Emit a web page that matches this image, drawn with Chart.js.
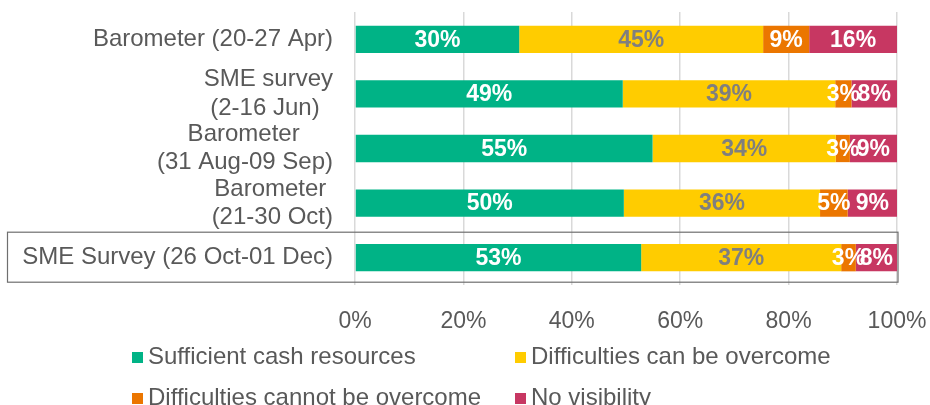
<!DOCTYPE html>
<html>
<head>
<meta charset="utf-8">
<script src="https://cdn.jsdelivr.net/npm/chart.js@4/dist/chart.umd.min.js"></script>
<style>
  body { margin: 0; background: #fff; }
  #wrap { position: relative; width: 930px; height: 405px; font-family: "Liberation Sans", Arial, sans-serif; }
  #box { position: absolute; left: 0; top: 0; width: 930px; height: 340px; }
  #legend { position: absolute; left: 0; top: 0; width: 930px; height: 405px; pointer-events: none; }
  .item { position: absolute; font-size: 24px; color: #595959; line-height: 28px; white-space: nowrap; }
  .item span { display: inline-block; width: 11px; height: 11px; margin-right: 5px; vertical-align: 1px; }
</style>
</head>
<body>
<div id="wrap">
  <div id="box"><canvas id="chart"></canvas></div>
  <div id="legend"></div>
</div>
<script>
// categories (trailing spaces mimic the original label wrapping)
const categories = [
  'Barometer (20-27 Apr)',
  ['SME survey', '(2-16 Jun)  '],
  ['Barometer     ', '(31 Aug-09 Sep)'],
  ['Barometer ', '(21-30 Oct)'],
  'SME Survey (26 Oct-01 Dec)'
];

// series values in %
const sufficient = [30.3, 49.4, 54.9, 49.6, 52.8];
const canOvercome = [45.0, 39.2, 33.8, 36.2, 36.9];
const cannotOvercome = [8.5, 3.0, 2.6, 5.1, 2.7];
const noVisibility = [16.2, 8.4, 8.7, 9.1, 7.6];

const seriesNames = ['Sufficient cash resources', 'Difficulties can be overcome', 'Difficulties cannot be overcome', 'No visibility'];
const seriesColors = ['#00B386', '#FFCC00', '#EB7600', '#C73762'];
const labelColors = ['#ffffff', '#7f7f7f', '#ffffff', '#ffffff'];
const xTicks = [0, 20, 40, 60, 80, 100];

const values = [sufficient, canOvercome, cannotOvercome, noVisibility];

// values drawn in the middle of every segment
const segmentLabels = {
  id: 'segmentLabels',
  afterDatasetsDraw(chart) {
    const ctx = chart.ctx;
    ctx.save();
    ctx.font = 'bold 23px "Liberation Sans", Arial, sans-serif';
    ctx.textAlign = 'center';
    ctx.textBaseline = 'middle';
    chart.data.datasets.forEach((ds, i) => {
      chart.getDatasetMeta(i).data.forEach((bar, j) => {
        ctx.fillStyle = labelColors[i];
        ctx.fillText(Math.round(ds.data[j]) + '%', (bar.x + bar.base) / 2, bar.y + 1);
      });
    });
    ctx.restore();
  }
};

// frame around the last category
const lastRowFrame = {
  id: 'lastRowFrame',
  afterDraw(chart) {
    const y = chart.scales.y.getPixelForValue(categories.length - 1);
    const ctx = chart.ctx;
    ctx.save();
    ctx.strokeStyle = '#6f6f6f';
    ctx.lineWidth = 1.2;
    ctx.strokeRect(7.5, y - 25.5, chart.chartArea.right - 6.5, 50);
    ctx.restore();
  }
};

new Chart(document.getElementById('chart'), {
  type: 'bar',
  data: {
    labels: categories,
    datasets: values.map((d, i) => ({
      label: seriesNames[i],
      data: d,
      backgroundColor: seriesColors[i],
      borderWidth: 0,
      categoryPercentage: 0.5,
      barPercentage: 1
    }))
  },
  options: {
    indexAxis: 'y',
    responsive: true,
    maintainAspectRatio: false,
    animation: false,
    layout: { padding: { top: 12, right: 33, left: 0, bottom: 0 } },
    plugins: {
      legend: { display: false },
      tooltip: { enabled: false }
    },
    scales: {
      x: {
        stacked: true,
        min: 0,
        max: 100,
        afterBuildTicks(scale) { scale.ticks = xTicks.map(v => ({ value: v })); },
        afterFit(scale) { scale.height = 55; },
        border: { display: false },
        grid: { color: '#d9d9d9', lineWidth: 1.5, drawTicks: true, tickLength: 20, tickColor: 'rgba(0,0,0,0)' },
        ticks: {
          padding: 3,
          color: '#595959',
          font: { family: '"Liberation Sans", Arial, sans-serif', size: 23 },
          callback: v => v + '%'
        }
      },
      y: {
        stacked: true,
        afterFit(scale) {
          scale.width = 355;
          scale.paddingTop = 0;
          scale.paddingBottom = 0;
        },
        border: { display: false },
        grid: { display: false, drawTicks: false },
        ticks: {
          autoSkip: false,
          padding: 22,
          color: '#595959',
          font: { family: '"Liberation Sans", Arial, sans-serif', size: 24, lineHeight: 1.17 }
        }
      }
    }
  },
  plugins: [segmentLabels, lastRowFrame]
});

// legend laid out as a two-column grid, like the original
const legendPos = [[132, 342], [515, 342], [132, 383], [515, 383]];
const legend = document.getElementById('legend');
seriesNames.forEach((name, i) => {
  const el = document.createElement('div');
  el.className = 'item';
  el.style.left = legendPos[i][0] + 'px';
  el.style.top = legendPos[i][1] + 'px';
  el.innerHTML = '<span style="background:' + seriesColors[i] + '"></span>' + name;
  legend.appendChild(el);
});
</script>
</body>
</html>
